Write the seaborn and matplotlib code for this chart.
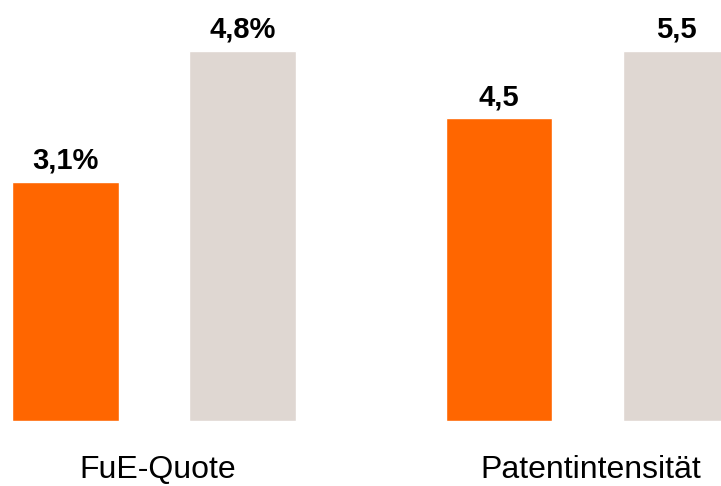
import matplotlib
matplotlib.use("Agg")
import matplotlib.pyplot as plt
import seaborn as sns
import pandas as pd

categories = ["FuE-Quote", "Patentintensität"]
series_names = ["Wert 1", "Wert 2"]
values_first = [3.1, 4.5]
values_second = [4.8, 5.5]
value_labels_first = ["3,1%", "4,5"]
value_labels_second = ["4,8%", "5,5"]

colors = ["#FF6600", "#DFD7D2"]

sns.set_style("white")
plt.rcParams["font.family"] = ["Liberation Sans", "DejaVu Sans"]

W, H = 721, 486
fig = plt.figure(figsize=(W / 100, H / 100), dpi=100)

base_px = 65  # baseline from bottom
bar_px_max = 370
# axes geometry in pixels: (left, width, xlim_left)
geoms = [(0, 360, -65.5 / 177), (400, 321, -99.0 / 177)]

for i, cat in enumerate(categories):
    left, width, xl = geoms[i]
    ax = fig.add_axes([left / W, base_px / H, width / W, (H - base_px) / H])
    df = pd.DataFrame({
        "serie": series_names,
        "wert": [values_first[i], values_second[i]],
    })
    sns.barplot(data=df, x="serie", y="wert", hue="serie", palette=colors,
                width=0.6, legend=False, ax=ax, saturation=1)
    vmax = max(values_first[i], values_second[i])
    ax.set_ylim(0, vmax * (H - base_px) / bar_px_max)
    ax.set_xlim(xl, xl + width / 177)
    for j, (v, lab) in enumerate(zip([values_first[i], values_second[i]],
                                     [value_labels_first[i], value_labels_second[i]])):
        ax.annotate(lab, (j, v), xytext=(0, 9.4), textcoords="offset points",
                    ha="center", va="baseline", fontsize=21, fontweight="bold",
                    color="black")
    ax.set_xticks([])
    ax.annotate(cat, (0.5 + 0.02, 0), xycoords=("data", "axes fraction"),
                xytext=(0, -57 * 0.72), textcoords="offset points",
                ha="center", va="baseline", fontsize=23, color="black")
    ax.set_yticks([])
    ax.set_xlabel("")
    ax.set_ylabel("")
    for s in ax.spines.values():
        s.set_visible(False)
    ax.patch.set_alpha(0)

fig.savefig("out.png", dpi=100, facecolor="white")
